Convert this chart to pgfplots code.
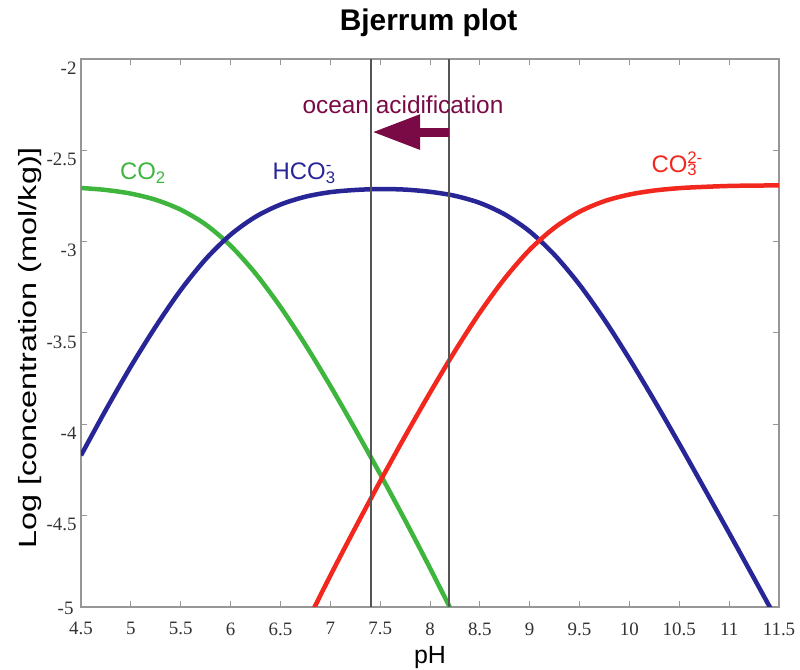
\documentclass[border=0pt]{standalone}
\usepackage{pgfplots}
\pgfplotsset{compat=1.18}
\usepackage{graphicx}
\usepackage{fontspec}
\setmainfont{Liberation Sans}
\newfontfamily\serifnum{Liberation Serif}
\usetikzlibrary{arrows.meta}
\definecolor{cogreen}{RGB}{62,182,62}
\definecolor{hcoblue}{RGB}{40,38,150}
\definecolor{cored}{RGB}{242,40,30}
\definecolor{oamag}{RGB}{122,10,70}
\definecolor{vline}{RGB}{85,85,85}
\definecolor{axgray}{RGB}{150,150,150}
\begin{document}
\begin{tikzpicture}
\path[use as bounding box] (-81bp,-63bp) rectangle (719bp,607bp);
\begin{axis}[
  scale only axis,
  width=698bp, height=548bp,
  xmin=4.5, xmax=11.5, ymin=-5, ymax=-2,
  xtick={4.5,5,5.5,6,6.5,7,7.5,8,8.5,9,9.5,10,10.5,11,11.5},
  ytick={-4.5,-4,-3.5,-3,-2.5,-2},
  extra y ticks={-5},
  extra y tick style={yticklabel style={yshift=8bp, xshift=-3bp}},
  tick align=inside,
  major tick length=6bp,
  axis line style={axgray, line width=1.3bp},
  tick style={axgray, line width=1bp},
  /pgf/number format/assume math mode=true,
  tick label style={font=\serifnum\fontsize{19}{19}\selectfont, text=black!80},
  xticklabel style={yshift=-12bp},
  yticklabel style={yshift=-9bp, xshift=-1bp},
  title={Bjerrum plot},
  title style={font=\fontsize{30}{36}\selectfont\bfseries, at={(axis description cs:0.498,1.041)}, anchor=base},
  xlabel={pH},
  xlabel style={font=\fontsize{25}{30}\selectfont, at={(axis description cs:0.5,-0.103)}, anchor=base},
  ylabel={\scalebox{1.3}[1]{Log [concentration (mol/kg)]}},
  ylabel style={font=\fontsize{25}{30}\selectfont, at={(axis description cs:-0.073,0.473)}, anchor=center},
]
% CO2
\addplot[cogreen, line width=4.5bp, smooth] coordinates {
(4.5,-2.706) (4.75,-2.717) (5.0,-2.737) (5.25,-2.771) (5.5,-2.825) (5.75,-2.906)
(6.0,-3.022) (6.25,-3.174) (6.5,-3.357) (6.75,-3.564) (7.0,-3.789) (7.25,-4.027)
(7.5,-4.272) (7.75,-4.525) (8.0,-4.787) (8.25,-5.059) (8.5,-5.35)
};
% HCO3-
\addplot[hcoblue, line width=4.5bp, smooth] coordinates {
(4.5,-4.170) (4.75,-3.920) (5.0,-3.683) (5.25,-3.464) (5.5,-3.265) (5.75,-3.096)
(6.0,-2.962) (6.25,-2.864) (6.5,-2.797) (6.75,-2.754) (7.0,-2.729) (7.25,-2.717)
(7.5,-2.712) (7.75,-2.715) (8.0,-2.727) (8.25,-2.749) (8.5,-2.788) (8.75,-2.851)
(9.0,-2.944) (9.25,-3.073) (9.5,-3.236) (9.75,-3.428) (10.0,-3.642) (10.25,-3.870)
(10.5,-4.107) (10.75,-4.350) (11.0,-4.595) (11.25,-4.843) (11.5,-5.092)
};
% CO3 2-
\addplot[cored, line width=4.5bp, smooth] coordinates {
(6.5,-5.397) (6.75,-5.104) (7.0,-4.829) (7.25,-4.567) (7.5,-4.312) (7.75,-4.065)
(8.0,-3.827) (8.25,-3.599) (8.5,-3.388) (8.75,-3.201) (9.0,-3.044) (9.25,-2.923)
(9.5,-2.836) (9.75,-2.778) (10.0,-2.742) (10.25,-2.720) (10.5,-2.707) (10.75,-2.700)
(11.0,-2.695) (11.25,-2.693) (11.5,-2.692)
};
% vertical lines
\addplot[vline, line width=1.8bp] coordinates {(7.41,-5) (7.41,-2)};
\addplot[vline, line width=1.8bp] coordinates {(8.19,-5) (8.19,-2)};
% arrow
\draw[oamag, line width=9bp, -{Triangle[length=48bp,width=33bp]}] (axis cs:8.19,-2.40) -- (axis cs:7.42,-2.40);
\node[oamag, font=\fontsize{24.5}{29}\selectfont, anchor=base west, inner sep=0pt] at (axis cs:6.72,-2.30) {ocean acidification};
\node[cogreen, font=\fontsize{24}{28}\selectfont, anchor=base west, inner sep=0pt] at (axis cs:4.89,-2.66) {CO\textsubscript{2}};
\node[hcoblue, font=\fontsize{24}{28}\selectfont, anchor=base west, inner sep=0pt] at (axis cs:6.42,-2.66) {HCO\rlap{\textsuperscript{-}}\textsubscript{3}};
\node[cored, font=\fontsize{24}{28}\selectfont, anchor=base west, inner sep=0pt] at (axis cs:10.22,-2.62) {CO\rlap{\textsuperscript{2-}}\textsubscript{3}};
\end{axis}
\end{tikzpicture}
\end{document}
